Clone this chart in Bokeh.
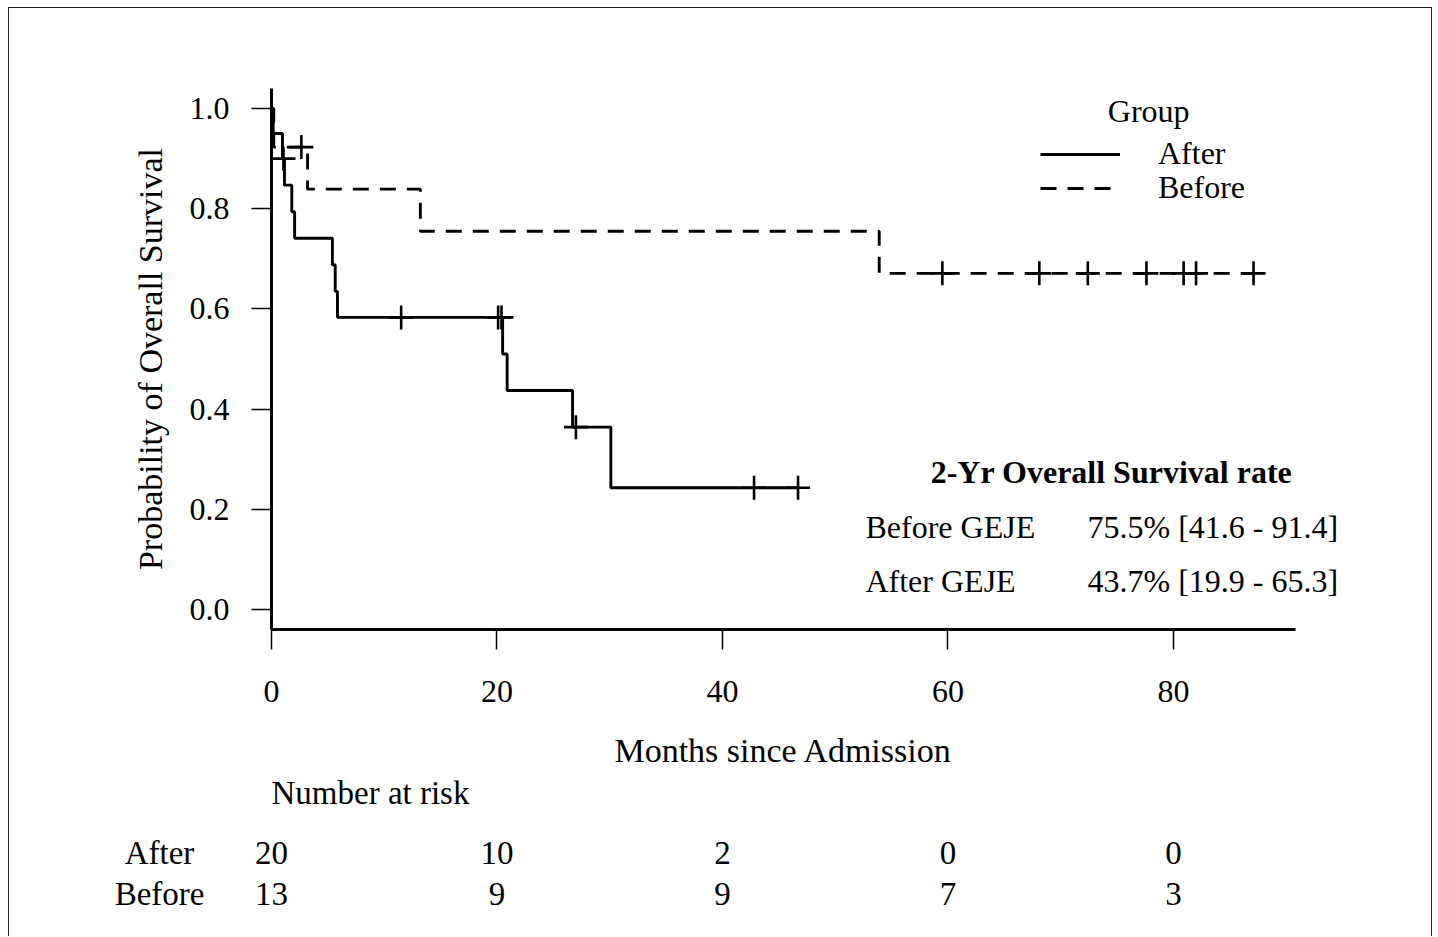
from bokeh.plotting import figure
from bokeh.models import (Range1d, FixedTicker, PrintfTickFormatter, Legend, LegendItem,
                          Label, ColumnDataSource)
from bokeh.core.properties import value
from bokeh.embed import file_html
from bokeh.resources import INLINE

FONT = "Liberation Serif"
FS = "32px"
FS_AX = "34px"
FS_TAB = "33px"

# ---- data ----
# After GEJE (solid line): step times (months) and survival probability
after_time = [0, 0.15, 0.97, 1.15, 1.8, 2.05, 5.4, 5.65, 5.85, 20.5, 20.9, 26.7, 30.1, 46.7]
after_surv = [1.0, 0.95, 0.90, 0.847, 0.794, 0.741, 0.688, 0.635, 0.583, 0.510, 0.437, 0.364, 0.243, 0.243]
after_cens_time = [1.06, 11.5, 20.1, 20.4, 27.0, 42.8, 46.7]
after_cens_surv = [0.90, 0.583, 0.583, 0.583, 0.364, 0.243, 0.243]

# Before GEJE (dashed line)
before_time = [0, 0.2, 3.2, 13.2, 53.9, 87.1]
before_surv = [1.0, 0.923, 0.839, 0.755, 0.671, 0.671]
before_cens_time = [2.65, 59.5, 68.1, 72.4, 77.6, 80.9, 82.0, 87.1]
before_cens_surv = [0.923, 0.671, 0.671, 0.671, 0.671, 0.671, 0.671, 0.671]

# Number at risk table
risk_times = [0, 20, 40, 60, 80]
after_at_risk = [20, 10, 2, 0, 0]
before_at_risk = [13, 9, 9, 7, 3]

x_ticks = [0, 20, 40, 60, 80]
y_ticks = [0.0, 0.2, 0.4, 0.6, 0.8, 1.0]

groups = ["After", "Before"]
os_title = "2-Yr Overall Survival rate"
os_rows = ["Before GEJE", "After GEJE"]
os_vals = ["75.5% [41.6 - 91.4]", "43.7% [19.9 - 65.3]"]

# ---- figure: the frame fills the canvas, axes sit at fixed data locations ----
p = figure(width=1424, height=929,
           x_range=Range1d(-23.237, 103.06), y_range=Range1d(-0.6547, 1.1996),
           output_backend="svg", toolbar_location=None,
           min_border_left=0, min_border_right=0, min_border_top=0, min_border_bottom=0)
p.styles = {"margin": "7px 0px 0px 8px",
            "border-top": "1px solid #222", "border-left": "1px solid #222",
            "border-right": "1px solid #222"}
p.grid.visible = False
p.outline_line_color = None
p.background_fill_color = "white"
p.border_fill_color = "white"

for ax in (p.xaxis[0], p.yaxis[0]):
    ax.axis_line_width = 3
    ax.axis_line_color = "black"
    ax.major_tick_in = 0
    ax.major_tick_out = 20
    ax.major_tick_line_width = 1.5
    ax.major_tick_line_color = "black"
    ax.minor_tick_line_color = None
    ax.major_label_text_font = FONT
    ax.major_label_text_font_size = FS
    ax.major_label_text_color = "black"
    ax.axis_label_text_font = FONT
    ax.axis_label_text_font_size = FS_AX
    ax.axis_label_text_font_style = "normal"
    ax.axis_label_text_color = "black"

p.xaxis.ticker = FixedTicker(ticks=x_ticks)
p.xaxis.fixed_location = -0.04
p.xaxis.bounds = (0, 90.8)
p.xaxis.major_label_standoff = 31
p.xaxis.axis_label = "Months since Admission"
p.xaxis.axis_label_standoff = 27

p.yaxis.ticker = FixedTicker(ticks=y_ticks)
p.yaxis.formatter = PrintfTickFormatter(format="%.1f")
p.yaxis.fixed_location = 0
p.yaxis.bounds = (-0.04, 1.04)
p.yaxis.major_label_standoff = 22
p.yaxis.axis_label = "Probability of Overall Survival"
p.yaxis.axis_label_standoff = 18

r_after = p.step(after_time, after_surv, mode="after", line_width=2.9, line_color="black")
r_before = p.step(before_time, before_surv, mode="after", line_width=2.9, line_color="black",
                  line_dash="16 11")
p.scatter(after_cens_time, after_cens_surv, marker="cross", size=24, line_width=2.6,
          line_color="black")
p.scatter(before_cens_time, before_cens_surv, marker="cross", size=24, line_width=2.6,
          line_color="black")

legend_style = dict(glyph_width=80, glyph_height=34, label_height=34,
                    spacing=0, padding=0, margin=0, label_standoff=38,
                    border_line_color=None, background_fill_alpha=0,
                    label_text_font=FONT, label_text_font_size=FS,
                    label_text_color="black")
p.add_layout(Legend(items=[LegendItem(label=groups[0], renderers=[r_after])],
                    location=(1031, 765), **legend_style))
p.add_layout(Legend(items=[LegendItem(label=groups[1], renderers=[r_before])],
                    location=(1031, 731), **legend_style))
p.add_layout(Label(x=77.8, y=0.996, text="Group", text_font=FONT, text_font_size=FS,
                   text_color="black", text_align="center", text_baseline="middle"))

# 2-year OS box
p.add_layout(Label(x=74.5, y=0.2735, text=os_title, text_font=FONT, text_font_size=FS,
                   text_color="black", text_font_style="bold", text_align="center",
                   text_baseline="middle"))
for i, (row, val) in enumerate(zip(os_rows, os_vals)):
    yy = 0.1637 - i * 0.1078
    p.add_layout(Label(x=52.68, y=yy, text=row, text_font=FONT, text_font_size=FS,
                       text_color="black", text_align="left", text_baseline="middle"))
    p.add_layout(Label(x=72.37, y=yy, text=val, text_font=FONT, text_font_size=FS,
                       text_color="black", text_align="left", text_baseline="middle"))

# Number at risk table
p.add_layout(Label(x=0, y=-0.367, text="Number at risk", text_font=FONT, text_font_size=FS_TAB,
                   text_color="black", text_align="left", text_baseline="middle"))
row_y = [-0.487, -0.567]
p.text(x=[-9.93, -9.93], y=row_y, text=groups, text_font=value(FONT),
       text_font_size=value(FS_TAB), text_align="center", text_baseline="middle",
       text_color="black")
src = ColumnDataSource(dict(
    x=risk_times + risk_times,
    y=[row_y[0]] * len(risk_times) + [row_y[1]] * len(risk_times),
    t=[str(v) for v in after_at_risk] + [str(v) for v in before_at_risk]))
p.text(x="x", y="y", text="t", source=src, text_font=value(FONT),
       text_font_size=value(FS_TAB), text_align="center", text_baseline="middle",
       text_color="black")

open("out.html", "w").write(file_html(p, INLINE))
